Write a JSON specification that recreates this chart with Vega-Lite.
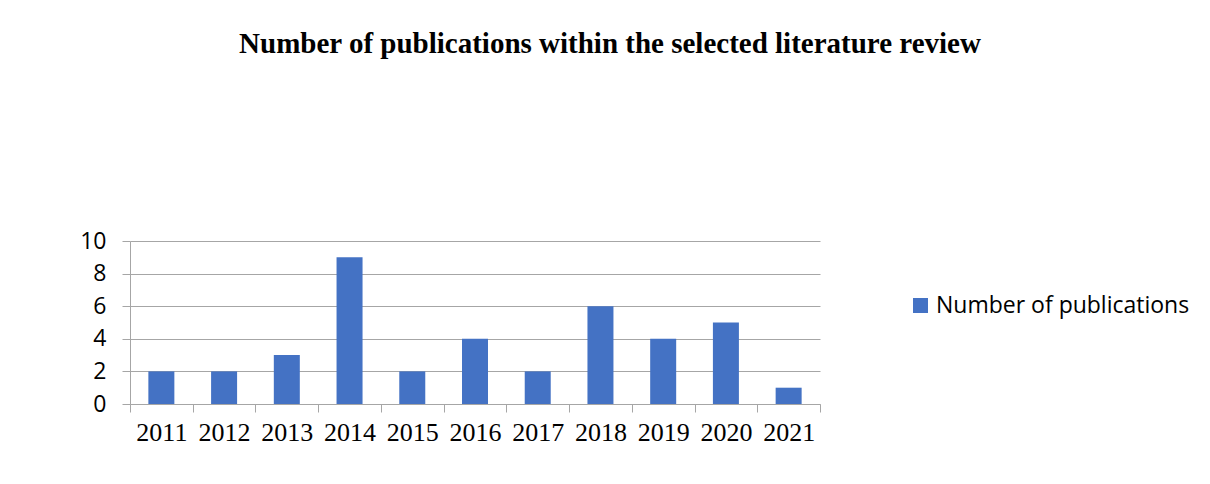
{
  "$schema": "https://vega.github.io/schema/vega-lite/v6.json",
  "autosize": {"type": "none"},
  "width": 690,
  "height": 163,
  "padding": {"left": 130, "top": 241, "right": 390, "bottom": 80},
  "background": "white",
  "title": {
    "text": "Number of publications within the selected literature review",
    "font": "Liberation Serif",
    "fontSize": 29,
    "fontWeight": "bold",
    "color": "black",
    "anchor": "middle",
    "frame": "group",
    "dx": 135,
    "offset": 171
  },
  "data": {
    "values": [
      {"year": 2011, "count": 2},
      {"year": 2012, "count": 2},
      {"year": 2013, "count": 3},
      {"year": 2014, "count": 9},
      {"year": 2015, "count": 2},
      {"year": 2016, "count": 4},
      {"year": 2017, "count": 2},
      {"year": 2018, "count": 6},
      {"year": 2019, "count": 4},
      {"year": 2020, "count": 5},
      {"year": 2021, "count": 1}
    ]
  },
  "layer": [
    {
      "mark": {"type": "bar", "width": 26},
      "encoding": {
        "x": {
          "field": "year",
          "type": "quantitative",
          "scale": {"domain": [2010.5, 2021.5], "nice": false, "zero": false, "padding": 0},
          "axis": {
            "title": null,
            "orient": "bottom",
            "values": [2011, 2012, 2013, 2014, 2015, 2016, 2017, 2018, 2019, 2020, 2021],
            "format": "d",
            "labelOverlap": false,
            "labelFlush": false,
            "labelFont": "Liberation Serif",
            "labelFontSize": 26,
            "labelColor": "black",
            "labelPadding": 15,
            "ticks": false,
            "domainColor": "#A6A6A6",
            "grid": false
          }
        },
        "y": {
          "field": "count",
          "type": "quantitative",
          "scale": {"domain": [0, 10], "nice": false},
          "axis": {
            "title": null,
            "values": [0, 2, 4, 6, 8, 10],
            "labelOverlap": false,
            "labelFont": "Open Sans",
            "labelFontSize": 23,
            "labelColor": "black",
            "labelPadding": 16,
            "tickSize": 8,
            "tickColor": "#A6A6A6",
            "domainColor": "#A6A6A6",
            "gridColor": "#A6A6A6",
            "grid": true
          }
        },
        "color": {
          "datum": "Number of publications",
          "type": "nominal",
          "scale": {"range": ["#4472C4"]},
          "legend": {
            "title": null,
            "orient": "none",
            "legendX": 779,
            "legendY": 53,
            "symbolType": "square",
            "symbolSize": 225,
            "symbolStrokeWidth": 0,
            "labelFont": "Open Sans",
            "labelFontSize": 23,
            "labelColor": "black",
            "labelOffset": 4,
            "labelLimit": 0
          }
        }
      }
    },
    {
      "mark": {"type": "bar", "width": 26, "opacity": 0},
      "encoding": {
        "x": {
          "field": "year",
          "type": "quantitative",
          "axis": {
            "title": null,
            "orient": "bottom",
            "values": [2010.5, 2011.5, 2012.5, 2013.5, 2014.5, 2015.5, 2016.5, 2017.5, 2018.5, 2019.5, 2020.5, 2021.5],
            "labels": false,
            "domain": false,
            "tickSize": 8,
            "tickColor": "#A6A6A6",
            "grid": false
          }
        }
      }
    }
  ],
  "resolve": {"axis": {"x": "independent"}},
  "config": {
    "view": {"stroke": null}
  }
}
